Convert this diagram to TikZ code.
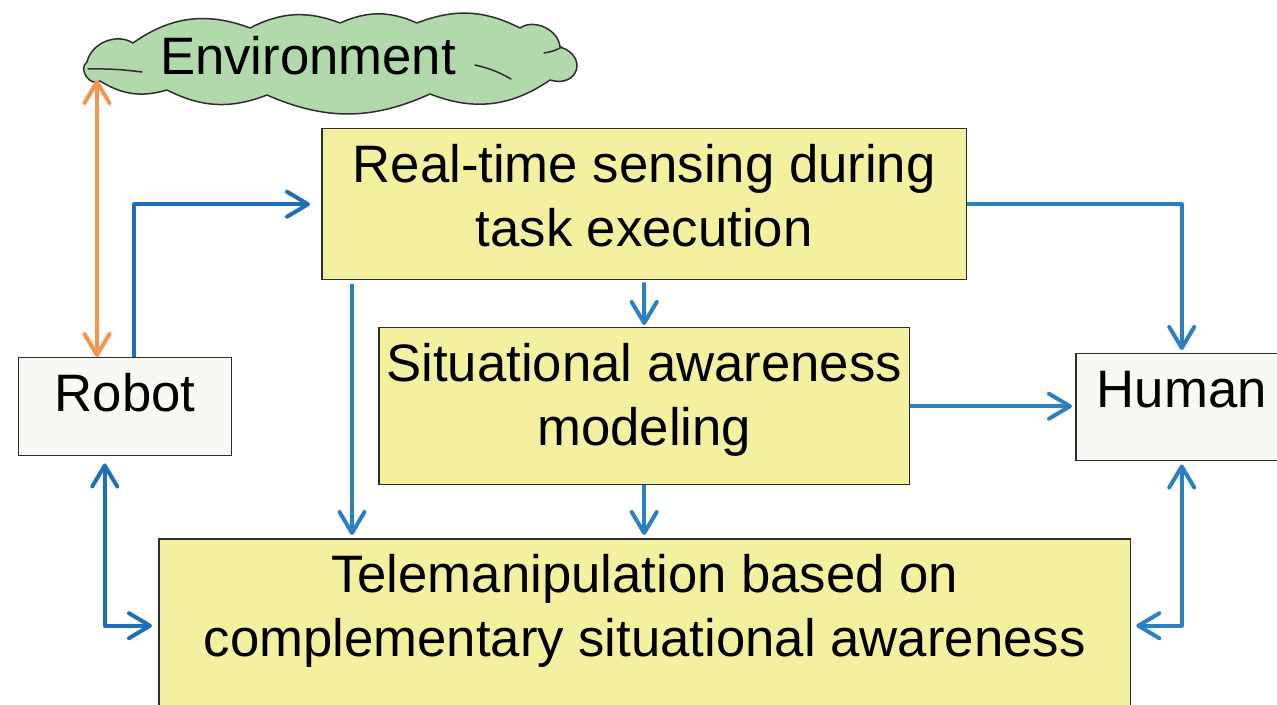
\documentclass[tikz,border=0pt]{standalone}
\usepackage{fontspec}
\setmainfont{Liberation Sans}
\usetikzlibrary{arrows.meta}

\definecolor{boxyellow}{RGB}{243,241,160}
\definecolor{boxwhite}{RGB}{248,248,244}
\definecolor{cloudgreen}{RGB}{178,217,171}
\definecolor{linkblue}{RGB}{42,128,192}
\definecolor{robotblue}{RGB}{31,111,184}
\definecolor{linkorange}{RGB}{240,150,80}
\definecolor{edgegray}{RGB}{45,45,45}

\begin{document}
\begin{tikzpicture}[x = 0.02cm, y = -0.02cm]
\tikzstyle{BoxStyle} = [shape = rectangle, draw = edgegray, line width = 0.03cm, inner sep = 0pt, anchor = north west, align = center, font = \fontsize{30pt}{36pt}\selectfont, text height = 1.08cm]
\tikzstyle{twoLineStyle} = [text height = 2.35cm]
\tikzstyle{yellowStyle} = [BoxStyle, twoLineStyle, fill = boxyellow]
\tikzstyle{whiteStyle} = [BoxStyle, fill = boxwhite]
\tikzstyle{CloudStyle} = [draw = edgegray, line width = 0.03cm, fill = cloudgreen, line join = round]
\tikzstyle{CloudLine} = [draw = edgegray, line width = 0.03cm, line cap = round]
\tikzstyle{EnvText} = [inner sep = 0pt, font = \fontsize{30pt}{36pt}\selectfont]
\tikzstyle{EdgeStyle} = [draw = linkblue, line width = 0.08cm, line join = round, -{Straight Barb[length = 0.42cm, width = 0.5cm, round]}]
\tikzstyle{BothStyle} = [EdgeStyle, {Straight Barb[length = 0.42cm, width = 0.5cm, round]}-{Straight Barb[length = 0.42cm, width = 0.5cm, round]}]
\tikzstyle{EnvStyle} = [BothStyle, draw = linkorange]
\clip (0, 0) rectangle (1277, 705);
\path[CloudStyle] (87, 62) to[bend left = 55] (133, 43) to[bend left = 28] (250, 28) to[bend left = 24] (340, 23) to[bend left = 24] (417, 23) to[bend left = 24] (520, 28) to[bend left = 60] (560, 47) to[bend left = 90, looseness = 2.2] (550, 80) to[bend left = 28] (430, 94) to[bend left = 24] (267, 95) to[bend left = 24] (167, 90) to[bend left = 24] (100, 81) to[bend left = 90, looseness = 1.3] (87, 62) -- cycle;
\draw[CloudLine] (88, 69) to[bend left = 4] (142, 72);
\draw[CloudLine] (475, 65) to[bend left = 8] (511, 79);
\draw[CloudLine] (544, 53) to[bend right = 10] (562, 47);
\node[EnvText] (env) at (308, 56) {Environment};
\node[yellowStyle, minimum width = 12.9cm, minimum height = 3.02cm, text depth = 0.67cm] (rt) at (321, 128) {Real-time sensing during\\task execution};
\node[yellowStyle, minimum width = 10.62cm, minimum height = 3.14cm, text depth = 0.79cm] (sa) at (378, 327) {Situational awareness\\modeling};
\node[yellowStyle, minimum width = 19.44cm, minimum height = 3.64cm, text depth = 1.29cm] (tm) at (158, 538) {Telemanipulation based on\\complementary situational awareness};
\node[whiteStyle, minimum width = 4.26cm, minimum height = 1.96cm, text depth = 0.88cm] (robot) at (18, 357) {Robot};
\node[whiteStyle, minimum width = 4.24cm, minimum height = 2.14cm, text depth = 1.06cm] (human) at (1075, 353) {Human};
\coordinate (envfoot) at (97, 80);
\draw[EnvStyle] (envfoot) -- (envfoot |- robot.north);
\coordinate (robotup) at ([xshift = 0.17cm]robot.north);
\draw[EdgeStyle, draw = robotblue] (robotup) |- ([xshift = -0.22cm]rt.west);
\draw[EdgeStyle] (rt.east) -| ([yshift = 0.06cm]human.north);
\draw[EdgeStyle] ([yshift = -0.04cm]rt.south) -- ([yshift = 0.04cm]sa.north);
\coordinate (rtleg) at ([xshift = 0.62cm, yshift = -0.08cm]rt.south west);
\draw[EdgeStyle, shorten > = 0.06cm] (rtleg) -- (rtleg |- tm.north);
\draw[EdgeStyle, shorten > = 0.06cm] (sa.east) -- (sa.east -| human.west);
\draw[EdgeStyle, shorten > = 0.06cm] (sa.south) -- (sa.south |- tm.north);
\draw[BothStyle, draw = robotblue] ([xshift = -0.41cm, yshift = -0.14cm]robot.south) |- ([xshift = -0.12cm, yshift = 0.08cm]tm.west);
\draw[BothStyle] ([yshift = -0.06cm]human.south) |- ([xshift = 0.1cm, yshift = 0.08cm]tm.east);
\end{tikzpicture}
\end{document}
